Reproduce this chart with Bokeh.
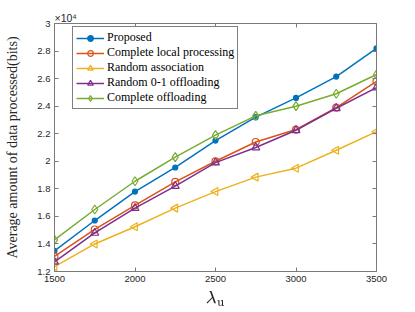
import math
from bokeh.plotting import figure
from bokeh.models import Range1d, LinearAxis, FixedTicker, CustomJSTickFormatter, Legend, Title
from bokeh.embed import file_html
from bokeh.resources import INLINE

# data (y in units of 10^4 bits)
lam_u = [1500, 1750, 2000, 2250, 2500, 2750, 3000, 3250, 3500]
proposed = [1.35, 1.57, 1.78, 1.955, 2.15, 2.32, 2.46, 2.615, 2.82]
local_proc = [1.31, 1.505, 1.68, 1.85, 2.00, 2.14, 2.23, 2.39, 2.58]
random_assoc = [1.235, 1.40, 1.525, 1.66, 1.78, 1.885, 1.95, 2.08, 2.215]
random_01 = [1.27, 1.48, 1.66, 1.82, 1.99, 2.10, 2.225, 2.385, 2.535]
complete_off = [1.43, 1.65, 1.855, 2.03, 2.19, 2.33, 2.40, 2.49, 2.63]
x_ticks = [1500, 2000, 2500, 3000, 3500]
y_ticks = [1.2, 1.4, 1.6, 1.8, 2.0, 2.2, 2.4, 2.6, 2.8, 3.0]

W, H = 415, 312
p = figure(width=W, height=H, output_backend="svg", toolbar_location=None,
           x_range=Range1d(1500, 3500), y_range=Range1d(1.2, 3.0),
           min_border_left=54, min_border_right=39, min_border_top=23, min_border_bottom=41,
           background_fill_color="white", border_fill_color="white")
p.outline_line_color = None
p.xgrid.visible = False
p.ygrid.visible = False

axis_col = "#7a7a7a"
tick_font = "Liberation Sans"
serif = "Liberation Serif"
fmt = CustomJSTickFormatter(code="return tick.toFixed(1).replace(/\\.0$/, '');")

def style(ax, labels=True):
    ax.axis_line_color = axis_col
    ax.major_tick_line_color = axis_col
    ax.minor_tick_line_color = None
    ax.major_tick_in = 4
    ax.major_tick_out = 0
    ax.major_label_text_font = tick_font
    ax.major_label_text_font_size = "9.5px"
    ax.major_label_text_color = "#262626"
    ax.major_label_standoff = 4
    if not labels:
        ax.major_label_text_alpha = 0
        ax.major_label_text_font_size = "1px"
        ax.major_label_standoff = 0

p.xaxis.ticker = FixedTicker(ticks=x_ticks)
p.yaxis.ticker = FixedTicker(ticks=y_ticks)
p.yaxis.formatter = fmt
style(p.xaxis[0]); style(p.yaxis[0])

p.yaxis.axis_label = "Average amount of data processed(bits)"
p.yaxis.axis_label_text_font = serif
p.yaxis.axis_label_text_font_style = "normal"
p.yaxis.axis_label_text_font_size = "14px"
p.yaxis.axis_label_text_color = "#262626"
p.yaxis.axis_label_standoff = 14

p.xaxis.axis_label = r"$$\lambda_{\mathrm{u}}$$"
p.xaxis.axis_label_text_font_size = "15px"
p.xaxis.axis_label_text_color = "#262626"
p.xaxis.axis_label_standoff = 6

top_ax = LinearAxis(ticker=FixedTicker(ticks=x_ticks))
right_ax = LinearAxis(ticker=FixedTicker(ticks=y_ticks))
style(top_ax, False); style(right_ax, False)
p.add_layout(top_ax, "above")
p.add_layout(right_ax, "right")
p.add_layout(Title(text="×10⁴", align="left", text_font=tick_font, text_font_size="10.5px",
                   text_font_style="normal", text_color="#262626", standoff=0, offset=0), "above")

series = [
    ("Proposed", proposed, "#0072BD", "circle", 5, 0, True),
    ("Complete local processing", local_proc, "#D95319", "circle", 7, 0, False),
    ("Random association", random_assoc, "#EDB120", "triangle", 8, math.pi / 2, False),
    ("Random 0-1 offloading", random_01, "#7E2F8E", "triangle", 8, 0, False),
    ("Complete offloading", complete_off, "#77AC30", "diamond", 9, 0, False),
]
items = []
for name, ys, col, mk, sz, ang, filled in series:
    r1 = p.line(lam_u, ys, line_color=col, line_width=1.5)
    r2 = p.scatter(lam_u, ys, marker=mk, size=sz, angle=ang, line_color=col, line_width=1.2,
                   fill_color=col if filled else None)
    items.append((name, [r1, r2]))

leg = Legend(items=items, location=(18, 162))
leg.label_text_font = serif
leg.label_text_font_size = "12px"
leg.label_text_color = "black"
leg.glyph_width = 28
leg.glyph_height = 14
leg.label_height = 14
leg.label_standoff = 3
leg.spacing = 0
leg.padding = 3
leg.margin = 0
leg.border_line_color = "black"
leg.border_line_width = 0.8
leg.background_fill_color = "white"
p.add_layout(leg, "center")

open("out.html", "w").write(file_html(p, INLINE))
